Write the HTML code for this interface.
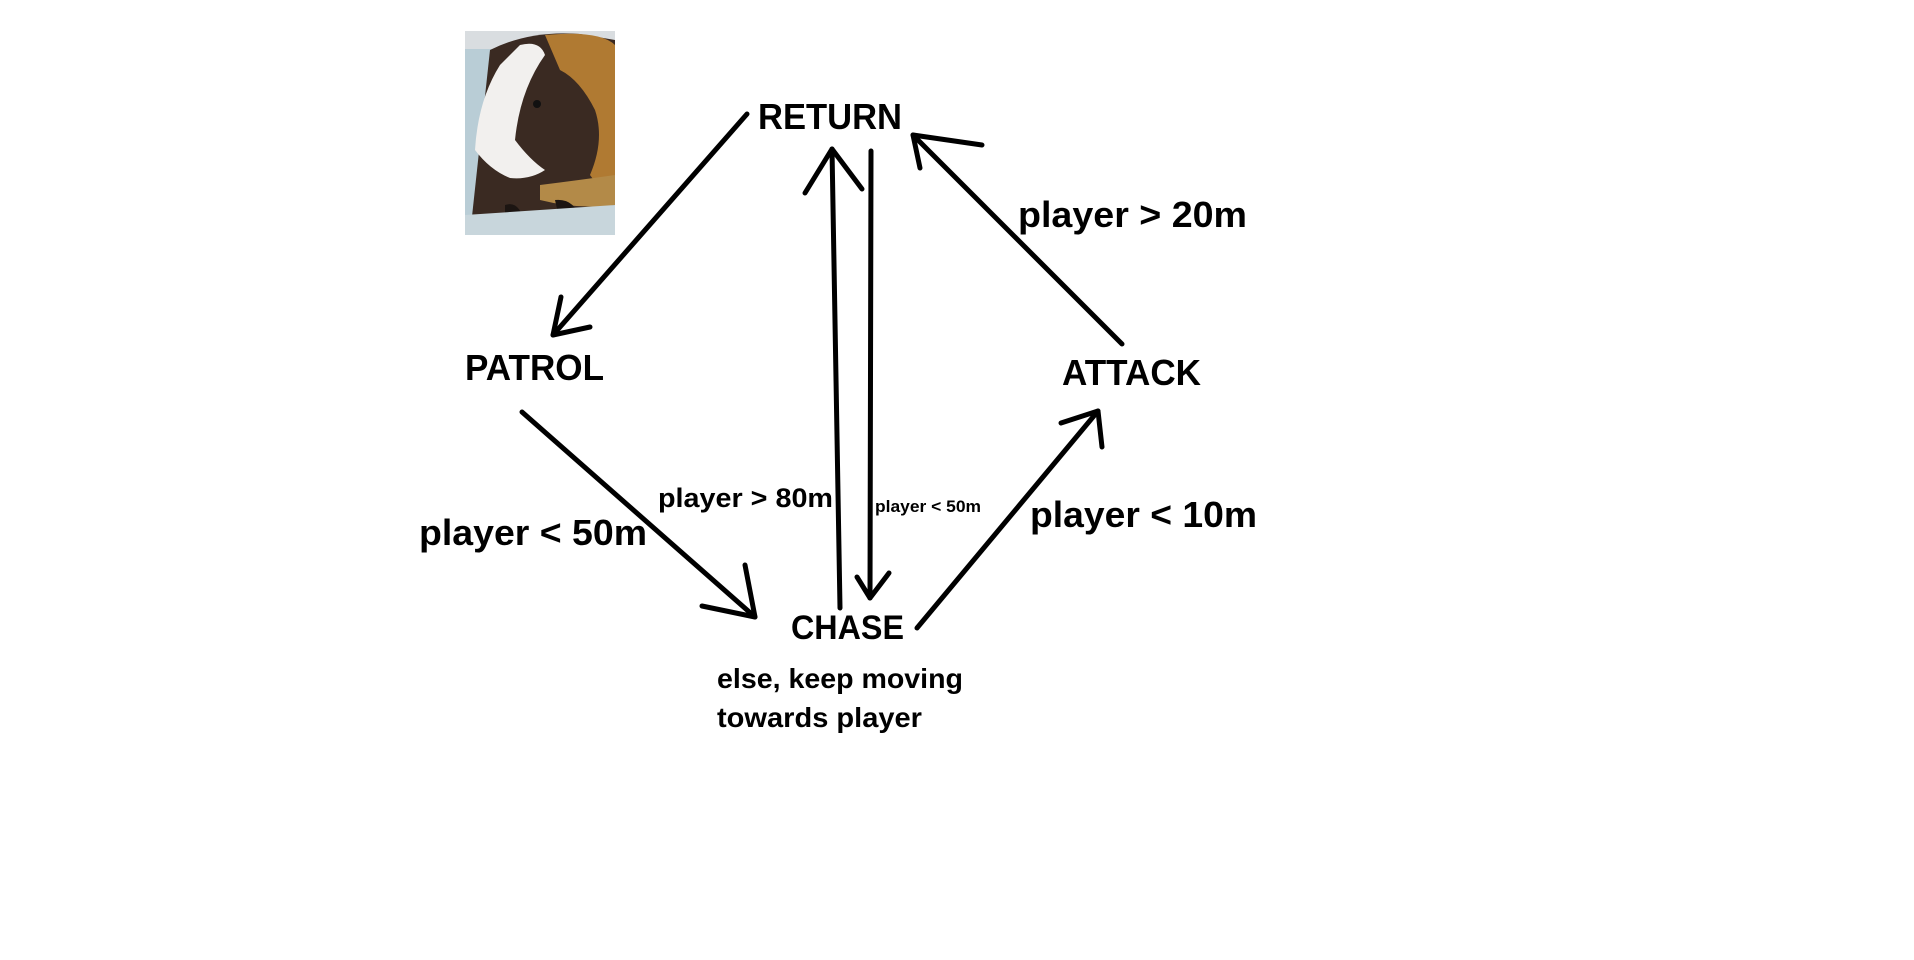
<!DOCTYPE html>
<html><head><meta charset="utf-8"><style>
html,body{margin:0;padding:0;background:#fff;width:1914px;height:960px;overflow:hidden}
text{font-family:"Liberation Sans",sans-serif;font-weight:bold;fill:#000}
</style></head><body>
<svg width="1914" height="960" viewBox="0 0 1914 960" xmlns="http://www.w3.org/2000/svg">
<defs><clipPath id="c"><rect x="465" y="31" width="150" height="204"/></clipPath></defs>
<g clip-path="url(#c)">
<rect x="465" y="31" width="150" height="204" fill="#b9cdd6"/>
<rect x="465" y="31" width="150" height="18" fill="#d9dde0"/>
<path d="M490 50 Q530 30 580 34 L615 40 L615 235 L470 235 Z" fill="#3a2a22"/>
<path d="M545 35 Q600 30 615 45 L615 200 Q600 190 590 175 Q605 140 595 110 Q580 80 560 70 Z" fill="#b07a32"/>
<path d="M540 185 Q580 180 615 175 L615 205 Q580 210 540 200 Z" fill="#b38a48"/>
<path d="M520 45 Q540 40 545 55 Q520 90 515 140 Q530 160 545 170 Q530 180 510 178 Q490 170 475 150 Q478 100 500 65 Z" fill="#f2f0ee"/>
<circle cx="537" cy="104" r="4" fill="#111"/>
<path d="M505 205 Q520 200 525 225 L505 228 Z M555 200 Q575 198 580 220 L560 222 Z" fill="#1c1512"/>
<path d="M465 215 L615 205 L615 235 L465 235 Z" fill="#c8d6dc"/>
</g>
<g stroke="#000" stroke-width="5" fill="none" stroke-linecap="round" stroke-linejoin="round">
<line x1="747" y1="114" x2="553" y2="335"/><polyline points="561,297 553,335 590,327"/>
<line x1="840" y1="608" x2="832" y2="149"/><polyline points="805,193 832,149 862,189"/>
<line x1="871" y1="151" x2="870" y2="598"/><polyline points="857,577 870,598 889,573"/>
<line x1="1122" y1="344" x2="913" y2="135"/><polyline points="982,145 913,135 920,168"/>
<line x1="522" y1="412" x2="755" y2="617"/><polyline points="702,606 755,617 745,565"/>
<line x1="917" y1="628" x2="1098" y2="411"/><polyline points="1061,423 1098,411 1102,447"/>
</g>
<text x="758" y="129" font-size="36" textLength="144" lengthAdjust="spacingAndGlyphs">RETURN</text>
<text x="465" y="380" font-size="36" textLength="139" lengthAdjust="spacingAndGlyphs">PATROL</text>
<text x="1062" y="385" font-size="36" textLength="139" lengthAdjust="spacingAndGlyphs">ATTACK</text>
<text x="791" y="639" font-size="34" textLength="113" lengthAdjust="spacingAndGlyphs">CHASE</text>
<text x="1018" y="227" font-size="36" textLength="229" lengthAdjust="spacingAndGlyphs">player &gt; 20m</text>
<text x="419" y="545" font-size="36" textLength="228" lengthAdjust="spacingAndGlyphs">player &lt; 50m</text>
<text x="1030" y="527" font-size="36" textLength="227" lengthAdjust="spacingAndGlyphs">player &lt; 10m</text>
<text x="658" y="507" font-size="27" textLength="175" lengthAdjust="spacingAndGlyphs">player &gt; 80m</text>
<text x="875" y="512" font-size="17" textLength="106" lengthAdjust="spacingAndGlyphs">player &lt; 50m</text>
<text x="717" y="688" font-size="28" textLength="246" lengthAdjust="spacingAndGlyphs">else, keep moving</text>
<text x="717" y="727" font-size="28" textLength="205" lengthAdjust="spacingAndGlyphs">towards player</text>
</svg>
</body></html>
